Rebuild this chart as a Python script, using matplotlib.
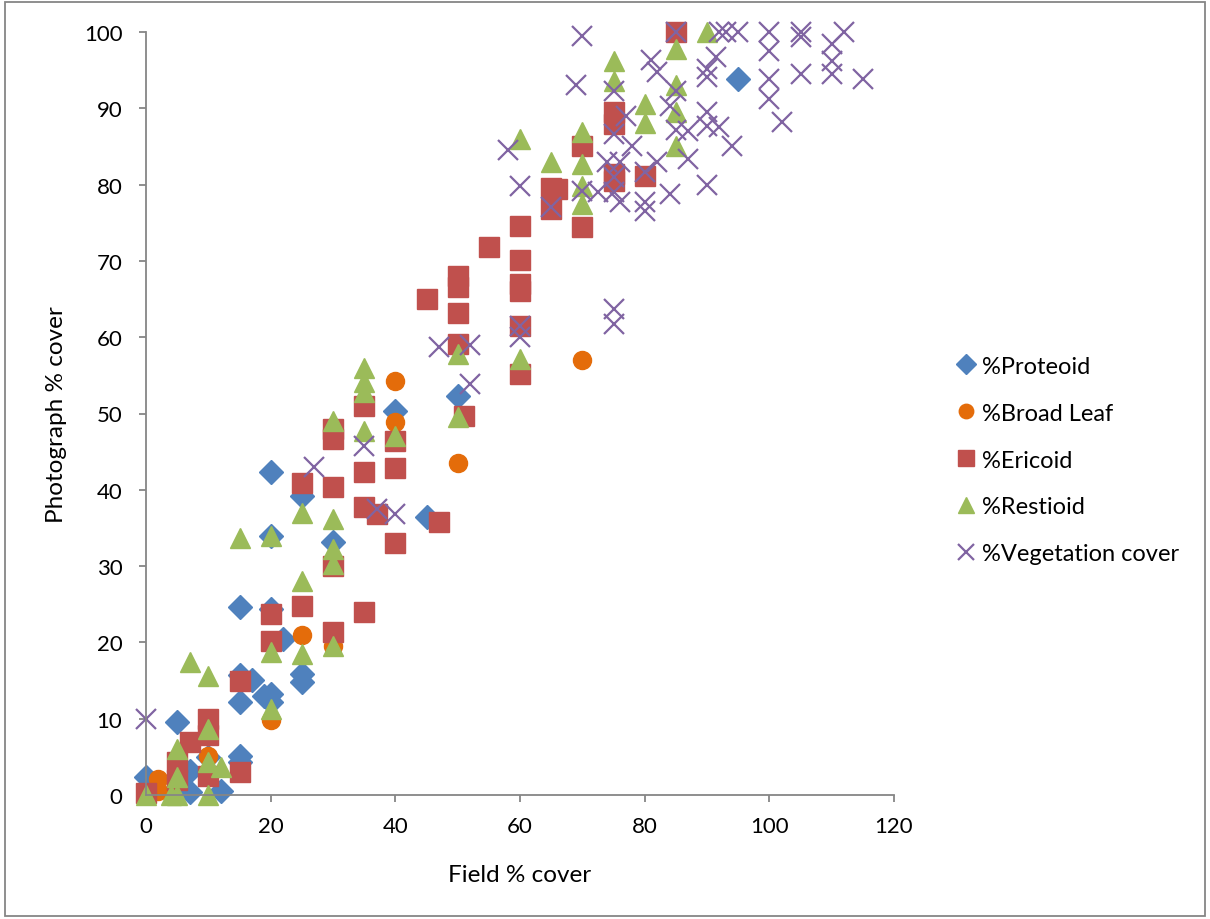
import matplotlib
matplotlib.use('Agg')
import matplotlib.pyplot as plt
from matplotlib.patches import Rectangle

plt.rcParams['font.family'] = ['Lato', 'DejaVu Sans']

# %Proteoid
pro_x = [0, 5, 7, 7, 10, 12, 15, 15, 15, 15, 15, 17, 19, 20, 20, 20, 20, 20, 22, 25, 25, 25, 30, 40, 45, 50, 95]
pro_y = [2.3, 9.6, 3.1, 0.4, 5.0, 0.5, 24.6, 15.7, 12.2, 5.1, 4.3, 15.1, 13.0, 42.3, 34.0, 24.4, 13.2, 12.2, 20.4,
         39.2, 15.9, 14.8, 33.1, 50.3, 36.4, 52.3, 93.8]

# %Broad Leaf
brd_x = [2, 2, 10, 20, 25, 30, 40, 40, 50, 70]
brd_y = [2.1, 0.5, 5.1, 9.8, 21.0, 19.5, 54.3, 48.9, 43.5, 57.0]

# %Ericoid
eri_x = [0, 5, 5, 7, 10, 10, 10, 15, 15, 20, 20, 25, 25, 30, 30, 30, 30, 30, 35, 35, 35, 35, 37, 40, 40, 40,
         45, 47, 50, 50, 50, 50, 51, 55, 60, 60, 60, 60, 60, 60, 65, 66, 65, 70, 70, 75, 75, 75, 75, 80, 85]
eri_y = [0.3, 4.3, 2.0, 6.9, 10.0, 7.8, 2.5, 15.0, 3.0, 23.7, 20.2, 24.8, 40.9, 21.3, 30.0, 40.4, 46.6, 48.0,
         24.0, 37.7, 42.3, 51.0, 36.8, 33.0, 42.9, 46.4, 65.0, 35.8, 68.0, 66.6, 63.2, 59.1, 49.7, 71.8,
         74.6, 70.1, 67.0, 66.0, 61.5, 55.2, 79.6, 79.4, 76.8, 85.0, 74.4, 89.5, 88.0, 81.4, 80.5, 81.1, 100]

# %Restioid
res_x = [0, 4, 5, 5, 5, 7, 10, 10, 10, 10, 12, 15, 20, 20, 20, 25, 25, 25, 30, 30, 30, 30, 30, 35, 35, 35, 35,
         40, 50, 50, 60, 60, 65, 70, 70, 70, 70, 75, 75, 80, 80, 85, 85, 85, 85, 90]
res_y = [0, 0, 0, 2.4, 6.0, 17.4, 15.6, 8.7, 4.3, 0, 3.7, 33.7, 33.9, 18.7, 11.3, 37.0, 28.0, 18.5, 49.0,
         36.2, 32.2, 30.3, 19.5, 56.0, 54.1, 52.8, 47.7, 47.0, 57.8, 49.5, 86.0, 57.1, 83.0, 86.9, 82.7,
         79.8, 77.5, 96.2, 93.6, 90.6, 88.1, 97.8, 93.0, 89.5, 85.0, 100]

# %Vegetation cover
veg_x = [0, 27, 35, 37, 40, 47, 52, 52, 58, 60, 60, 60, 65, 69, 70, 70, 72.5, 74, 75, 75, 75, 75, 75, 75,
         76, 76, 77, 78, 80, 80, 80, 81, 82, 82, 84, 84, 85, 85, 85, 87, 87, 90, 90, 90, 90, 90, 91.5, 92,
         92, 93, 94, 95, 100, 100, 100, 100, 102, 105, 105, 105, 110, 110, 110, 112, 115]
veg_y = [10, 43, 45.7, 37.5, 36.8, 58.7, 59, 53.9, 84.5, 79.8, 61.5, 60, 77, 93, 99.5, 79.2, 79, 83, 92.3,
         86.6, 81, 79, 63.7, 61.7, 83, 77.7, 89, 85, 81.6, 77.7, 76.5, 96.3, 94.8, 83, 90.3, 78.8, 100,
         92.3, 87.2, 87, 83.4, 95.1, 94.1, 89.5, 87.7, 80, 96.7, 100, 87.5, 100, 85, 100, 100, 97.5, 93.8,
         91.2, 88.2, 100, 99.3, 94.5, 98.4, 96.2, 94.5, 100, 93.8]

x_ticks = [0, 20, 40, 60, 80, 100, 120]
y_ticks = [0, 10, 20, 30, 40, 50, 60, 70, 80, 90, 100]

fig = plt.figure(figsize=(12.1, 9.2), dpi=100)
ax = fig.add_axes([146 / 1210, 1 - 796 / 920, (894 - 146) / 1210, (796 - 33) / 920])

ax.plot(pro_x, pro_y, 'D', color='#4F81BD', markersize=12.5, label='%Proteoid', clip_on=False)
ax.plot(brd_x, brd_y, 'o', color='#E46C0A', markersize=13, label='%Broad Leaf', clip_on=False)
ax.plot(eri_x, eri_y, 's', color='#C0504D', markersize=14, label='%Ericoid', clip_on=False)
ax.plot(res_x, res_y, '^', color='#9BBB59', markersize=15, label='%Restioid', clip_on=False)
ax.plot(veg_x, veg_y, 'x', color='#8064A2', markersize=14, markeredgewidth=1.6,
        label='%Vegetation cover', clip_on=False)

ax.set_xlim(0, 120)
ax.set_ylim(0, 100)
ax.set_xticks(x_ticks)
ax.set_yticks(y_ticks)

for side in ['top', 'right']:
    ax.spines[side].set_visible(False)
for side in ['left', 'bottom']:
    ax.spines[side].set_color('#868686')
    ax.spines[side].set_linewidth(1.3)
ax.tick_params(axis='both', direction='out', length=5, width=1.3, color='#868686',
               labelsize=16, labelcolor='black')
ax.tick_params(axis='y', pad=12)
ax.tick_params(axis='x', pad=10)

ax.set_xlabel('Field % cover', fontsize=17.5, labelpad=20)
ax.set_ylabel('Photograph % cover', fontsize=17.5, labelpad=12)

leg = ax.legend(loc='center left', bbox_to_anchor=(935 / 1210, 1 - 461 / 920),
                bbox_transform=fig.transFigure, frameon=False, fontsize=17,
                labelspacing=1.1, handlelength=0.8, handletextpad=0.3, markerscale=0.8)

# chart border
fig.patches.append(Rectangle((5 / 1210, 3 / 920), 1 - 10 / 1210, 1 - 6 / 920,
                             transform=fig.transFigure, fill=False,
                             edgecolor='#868686', linewidth=1.3))

fig.savefig('out.png', dpi=100)
